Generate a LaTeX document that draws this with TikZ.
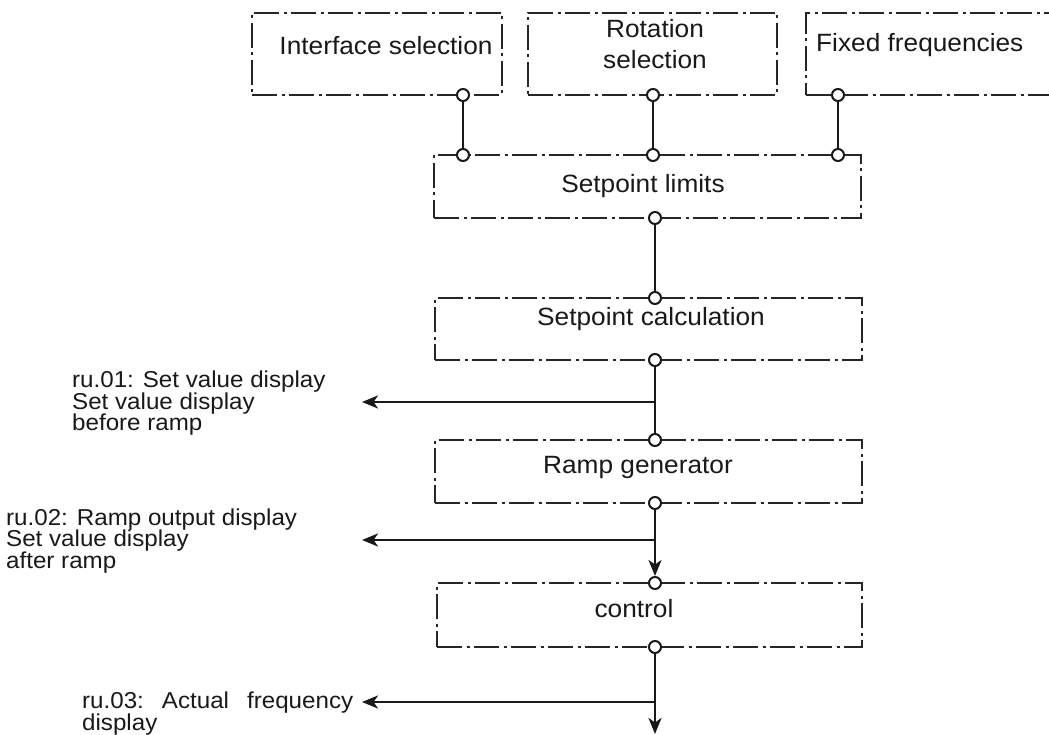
\documentclass[tikz,border=0pt]{standalone}
\usepackage{fontspec}
\setmainfont{Liberation Sans}[FakeStretch=1.05]
\usetikzlibrary{arrows.meta}
\begin{document}
\begin{tikzpicture}[x=1pt,y=-1pt,
  blk/.style={draw=black!85, line width=1.15pt, dash pattern=on 25pt off 4.5pt on 3pt off 4.5pt, rectangle, inner sep=0pt, outer sep=0pt},
  pin/.style={circle, draw=black!90, line width=2pt, fill=white, minimum size=12pt, inner sep=0pt},
  conn/.style={draw=black!90, line width=2.5pt},
  arr/.style={conn, -{Stealth[length=16pt,width=13pt,inset=4.5pt]}},
  btxt/.style={font=\fontsize{25}{31}\selectfont, text=black!90, inner sep=0pt},
  ltxt/.style={font=\fontsize{23}{21.5}\selectfont, text=black!90, inner sep=0pt, align=left, anchor=north west}]
\useasboundingbox (0,0) rectangle (1049,735);
\fill[white] (0,0) rectangle (1049,735);
\clip (0,0) rectangle (1049,735);

% boxes
\node[blk, minimum width=250pt, minimum height=82pt] (iface) at (377,54) {};
\node[blk, minimum width=249pt, minimum height=82pt] (rot) at (652.5,54) {};
\node[blk, minimum width=294pt, minimum height=82pt] (fix) at (953,54) {};
\node[blk, minimum width=427pt, minimum height=63pt] (lim) at (647.5,186.5) {};
\node[blk, minimum width=427pt, minimum height=62pt] (calc) at (648.5,329) {};
\node[blk, minimum width=427pt, minimum height=63pt] (ramp) at (648.5,471.5) {};
\node[blk, minimum width=425pt, minimum height=64pt] (ctrl) at (649.5,615) {};

% box texts
\node[btxt, anchor=base] (tif) at (386,55) {Interface selection};
\node[btxt, anchor=north, align=center] (tro) at (655,19) {Rotation\\selection};
\node[btxt, anchor=base west] (tfx) at (816,52) {Fixed frequencies};
\node[btxt, anchor=base] (tlim) at (643,193) {Setpoint limits};
\node[btxt, anchor=base] (tcalc) at (651,325) {Setpoint calculation};
\node[btxt, anchor=base] (tramp) at (638,473) {Ramp generator};
\node[btxt, anchor=base] (tctrl) at (634,617) {control};

% pins
\node[pin] (p1) at (463,95) {};
\node[pin] (p2) at (463,155) {};
\node[pin] (p3) at (653,95) {};
\node[pin] (p4) at (653,155) {};
\node[pin] (p5) at (838,95) {};
\node[pin] (p6) at (838,155) {};
\node[pin] (p7) at (655,218) {};
\node[pin] (p8) at (655,298) {};
\node[pin] (p9) at (655,360) {};
\node[pin] (p10) at (655,440) {};
\node[pin] (p11) at (655,503) {};
\node[pin] (p12) at (655,583) {};
\node[pin] (p13) at (655,647) {};

% junctions and free ends
\coordinate (j1) at (655,402);
\coordinate (t1) at (362,402);
\coordinate (j2) at (655,540);
\coordinate (t2) at (362,540);
\coordinate (j3) at (655,702);
\coordinate (t3) at (362,702);
\coordinate (e4) at (655,734);

% connectors
\draw[conn] (p1) -- (p2);
\draw[conn] (p3) -- (p4);
\draw[conn] (p5) -- (p6);
\draw[conn] (p7) -- (p8);
\draw[conn] (p9) -- (p10);
\draw[arr] (p11) -- (p12);
\draw[arr] (p13) -- (e4);
\draw[arr] (j1) -- (t1);
\draw[arr] (j2) -- (t2);
\draw[arr] (j3) -- (t3);

% left labels
\node[ltxt] (r1) at (72,371) {ru.01: Set value display\\Set value display\\before ramp};
\node[ltxt] (r2) at (6,508.5) {ru.02: Ramp output display\\Set value display\\after ramp};
\node[ltxt] (r3) at (82,692) {\hbox to 271pt{ru.03:\hfill Actual\hfill frequency}\\display};
\end{tikzpicture}
\end{document}
